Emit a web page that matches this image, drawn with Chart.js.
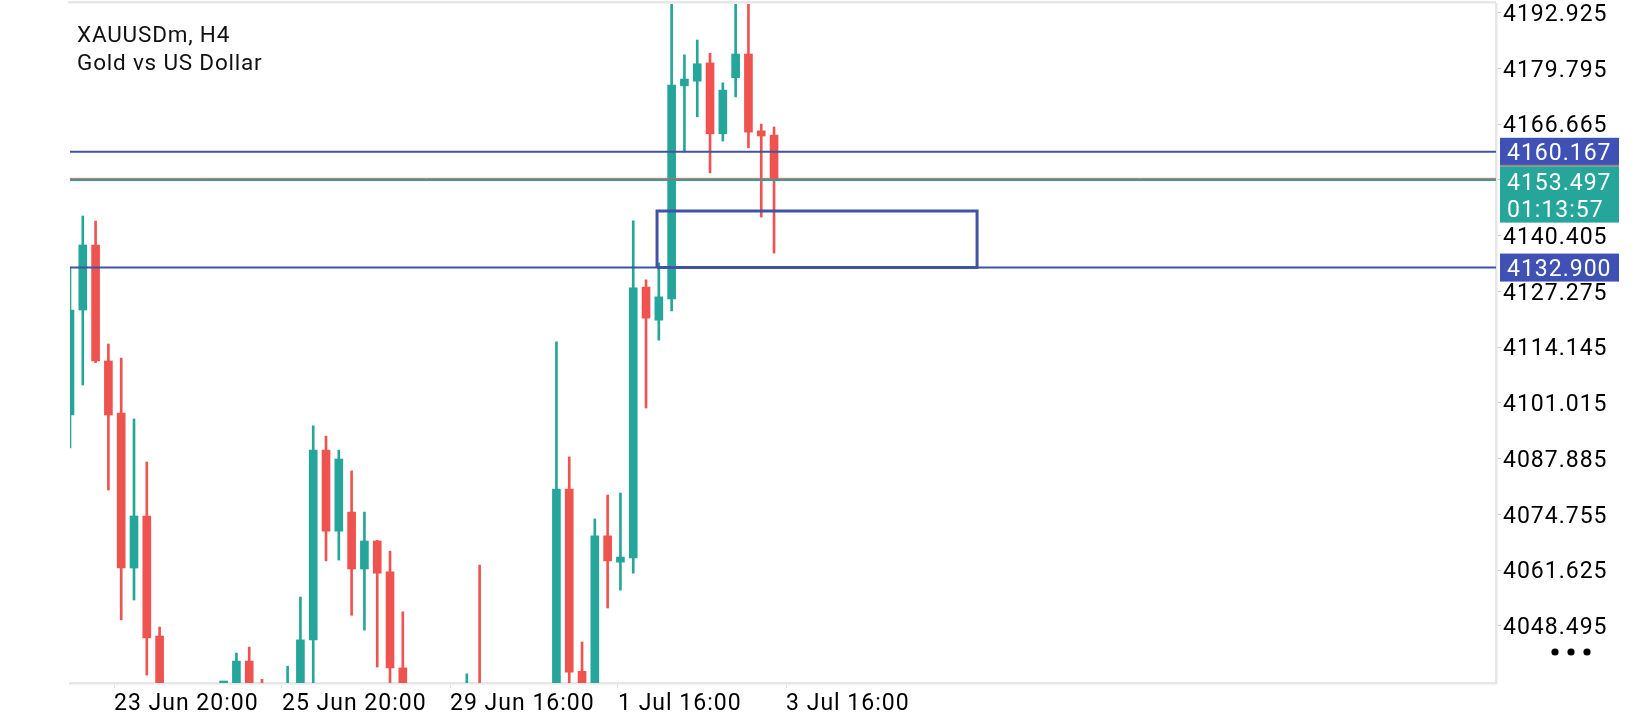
<!DOCTYPE html>
<html><head><meta charset="utf-8">
<script src="https://cdn.jsdelivr.net/npm/chart.js@4.4.1/dist/chart.umd.min.js"></script>
<style>html,body{margin:0;padding:0;background:#fff;} #wrap{width:1640px;height:720px;position:relative;}</style>
</head><body><div id="wrap"><canvas id="c"></canvas></div>
<script>
// ---------- data ----------
const symbolTitle = ['XAUUSDm, H4', 'Gold vs US Dollar'];
const openP  = [4098.16,4122.90,4138.21,4110.90,4098.63,4062.12,4074.37,4046.10,4028.5,4020.4,4025.3,4022.1,4027.6,4028.0,4040.2,4026.0,4018.5,4024.0,4032.0,4045.2,4089.9,4070.8,4075.3,4061.9,4068.5,4061.2,4038.6,4028.0,4024.6,4021.3,4026.2,4023.0,4030.4,4018.0,4021.9,4016.7,4012.3,4019.8,4025.5,4080.7,4037.8,4032.0,4069.7,4063.5,4064.5,4128.3,4120.5,4125.5,4175.7,4176.8,4181.1,4164.4,4177.6,4183.2,4165.1,4164.1];
const highP  = [4133.02,4145.04,4143.86,4114.89,4111.59,4097.22,4087.09,4048.22,4033.0,4029.8,4031.2,4030.5,4033.9,4042.09,4043.5,4035.9,4030.0,4039.0,4055.3,4095.6,4093.2,4089.9,4085.0,4075.3,4068.6,4066.1,4051.8,4033.5,4031.0,4029.4,4032.8,4037.2,4062.8,4027.5,4030.1,4025.8,4024.0,4031.5,4115.4,4088.3,4044.7,4073.7,4079.3,4079.8,4143.9,4130.0,4134.0,4197.5,4183.0,4186.5,4183.4,4176.4,4198.0,4199.0,4166.7,4166.0];
const lowP   = [4090.39,4105.23,4110.50,4080.49,4049.87,4054.58,4036.91,4024.0,4015.2,4012.6,4018.9,4016.4,4021.3,4024.5,4019.0,4012.0,4010.3,4017.0,4028.0,4032.0,4063.8,4064.0,4051.0,4047.5,4038.8,4030.0,4022.0,4018.2,4015.8,4012.7,4019.5,4016.5,4014.0,4008.4,4013.5,4006.9,4004.5,4013.0,4020.0,4030.0,4028.0,4029.5,4052.7,4056.9,4060.9,4099.8,4115.8,4122.7,4160.1,4168.4,4155.2,4162.7,4173.1,4161.1,4144.8,4136.3];
const closeP = [4122.90,4138.21,4110.88,4098.16,4062.12,4074.37,4045.63,4028.5,4020.4,4025.3,4022.1,4027.6,4028.0,4040.2,4026.0,4018.5,4024.0,4032.0,4045.2,4089.9,4070.8,4087.8,4061.9,4068.5,4060.9,4038.6,4028.0,4024.6,4021.3,4026.2,4023.0,4030.4,4018.0,4021.9,4016.7,4012.3,4019.8,4025.5,4080.7,4037.6,4032.0,4069.7,4063.8,4064.7,4128.1,4121.0,4126.0,4175.9,4177.3,4180.9,4164.4,4174.7,4183.2,4164.8,4163.9,4153.497];
const xTickPos    = [3.44, 16.56, 29.69, 42.81, 55.94];
const xTickLabels = ['23 Jun 20:00', '25 Jun 20:00', '29 Jun 16:00', '1 Jul 16:00', '3 Jul 16:00'];
const yTicks = [4048.495,4061.625,4074.755,4087.885,4101.015,4114.145,4127.275,4140.405,4153.535,4166.665,4179.795,4192.925];
const levelUpper = 4160.167;
const levelLower = 4132.900;
const bidPrice = 4153.497;
const askPrice = 4153.9;
const countdown = '01:13:57';
const zoneX = [45.86, 70.86];
const zoneY = [4132.9, 4146.22];
const xRange = [0, 111.4];
const yRange = [4035.04, 4194.98];

// ---------- styles ----------
const UP = '#26a69a', DOWN = '#ef5350', LEVEL = '#4153a3', BOX = '#3f51b5';
const AXFONT = {family: 'Roboto', size: 23};

const idx = closeP.map((_, i) => i);
const colorOf = i => closeP[i] >= openP[i] ? UP : DOWN;
const bodies = idx.map(i => ({x: i, y: [openP[i], closeP[i]]}));
const wicks  = idx.map(i => ({x: i, y: [lowP[i], highP[i]]}));
const hLine = v => [{x: xRange[0], y: v}, {x: xRange[1], y: v}];
const zone = [{x: zoneX[0], y: zoneY[0]}, {x: zoneX[0], y: zoneY[1]}, {x: zoneX[1], y: zoneY[1]}, {x: zoneX[1], y: zoneY[0]}, {x: zoneX[0], y: zoneY[0]}];

const overlay = {
  id: 'overlay',
  beforeDraw(chart) { chart.ctx.letterSpacing = '1px'; },
  afterDraw(chart) {
    const ctx = chart.ctx, ca = chart.chartArea, ys = chart.scales.y;
    ctx.save();
    // top border
    ctx.fillStyle = '#e6e6e6';
    ctx.fillRect(68, 1, ca.right - 68, 2.5);
    // price boxes
    ctx.font = '23px Roboto';
    ctx.letterSpacing = '1px';
    ctx.textBaseline = 'middle';
    ctx.textAlign = 'left';
    const bx = 1500, bw = 119;
    const pu = ys.getPixelForValue(levelUpper);
    ctx.fillStyle = BOX; ctx.fillRect(bx, pu - 14, bw, 28);
    ctx.fillStyle = '#fff'; ctx.fillText(levelUpper.toFixed(3), bx + 7, pu + 2.5);
    const pb = ys.getPixelForValue(bidPrice);
    ctx.fillStyle = '#9a8888'; ctx.fillRect(bx, pu + 13, bw, 2);
    ctx.fillStyle = UP; ctx.fillRect(bx, pb - 13.5, bw, 56);
    ctx.fillStyle = '#fff';
    ctx.fillText(bidPrice.toFixed(3), bx + 7, pb + 4);
    ctx.fillText(countdown, bx + 7, pb + 31);
    const pl = ys.getPixelForValue(levelLower);
    ctx.fillStyle = BOX; ctx.fillRect(bx, pl - 14, bw, 28);
    ctx.fillStyle = '#fff'; ctx.fillText(levelLower.toFixed(3), bx + 7, pl + 2.5);
    // menu dots
    ctx.fillStyle = '#000';
    [1555, 1571, 1587].forEach(cx => { ctx.beginPath(); ctx.arc(cx, 652, 3.6, 0, Math.PI * 2); ctx.fill(); });
    // title
    ctx.letterSpacing = '0.8px';
    ctx.font = '22.5px Roboto';
    ctx.textBaseline = 'alphabetic';
    ctx.fillStyle = '#111';
    ctx.fillText(symbolTitle[0], 77, 42);
    ctx.fillText(symbolTitle[1], 77, 70);
    ctx.restore();
  }
};

new Chart(document.getElementById('c'), {
  type: 'bar',
  data: {
    datasets: [
      {type: 'line', label: 'ask', data: hLine(askPrice), borderColor: DOWN, borderWidth: 1, pointRadius: 0, order: 0.6, clip: 0},
      {type: 'line', label: 'bid', data: hLine(bidPrice), borderColor: UP, borderWidth: 2, pointRadius: 0, order: 0.5, clip: 0},
      {type: 'line', label: 'upper', data: hLine(levelUpper), borderColor: LEVEL, borderWidth: 2, pointRadius: 0, order: 0.1, clip: 0},
      {type: 'line', label: 'lower', data: hLine(levelLower), borderColor: LEVEL, borderWidth: 2, pointRadius: 0, order: 0.1, clip: 0},
      {type: 'line', label: 'zone', data: zone, borderColor: LEVEL, borderWidth: 3, pointRadius: 0, order: 0.2, clip: 0, borderJoinStyle: 'miter'},
      {label: 'body', data: bodies, backgroundColor: c => colorOf(c.dataIndex), barThickness: 8, minBarLength: 2, grouped: false, borderWidth: 0, order: 1, clip: 0},
      {label: 'wick', data: wicks, backgroundColor: c => colorOf(c.dataIndex), barThickness: 2, grouped: false, borderWidth: 0, order: 2, clip: 0}
    ]
  },
  options: {
    responsive: true, maintainAspectRatio: false, animation: false, devicePixelRatio: 1,
    layout: {padding: {left: 70, top: 4, right: 0, bottom: 0}},
    plugins: {legend: {display: false}, tooltip: {enabled: false}, title: {display: false}},
    scales: {
      x: {
        type: 'linear', min: xRange[0], max: xRange[1], offset: false,
        afterBuildTicks: s => { s.ticks = xTickPos.map(v => ({value: v})); },
        afterFit: s => { s.height = 37; s.paddingLeft = 0; s.paddingRight = 0; },
        grid: {drawOnChartArea: false, drawTicks: true, tickLength: 5, color: '#dddddd', offset: false},
        border: {display: true, color: '#e6e6e6', width: 2.5},
        ticks: {align: 'start', autoSkip: false, maxRotation: 0, padding: 2, color: '#000', font: AXFONT,
          callback: (v, i) => xTickLabels[i]}
      },
      y: {
        type: 'linear', position: 'right', min: yRange[0], max: yRange[1],
        afterBuildTicks: s => { s.ticks = yTicks.map(v => ({value: v})); },
        afterFit: s => { s.width = 144; s.paddingTop = 0; s.paddingBottom = 0; },
        grid: {drawOnChartArea: false, drawTicks: true, tickLength: 5, color: '#cccccc'},
        border: {display: true, color: '#e6e6e6', width: 2.5},
        ticks: {padding: 2, labelOffset: 2.5, color: '#000', font: AXFONT, autoSkip: false, callback: v => Number(v).toFixed(3)}
      }
    }
  },
  plugins: [overlay]
});
</script></body></html>
